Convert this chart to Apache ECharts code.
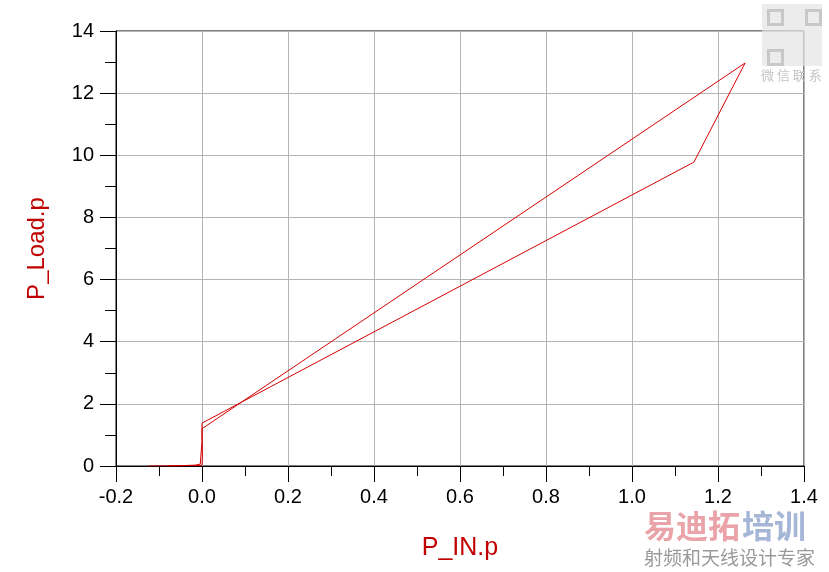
<!DOCTYPE html>
<html>
<head>
<meta charset="utf-8">
<script src="https://cdn.jsdelivr.net/npm/echarts@6/dist/echarts.min.js"></script>
<style>html,body{margin:0;padding:0;background:#fff}#c{width:829px;height:572px}</style>
</head>
<body>
<div id="c"></div>
<script>
// P_IN.p values (x) and P_Load.p values (y), in path order
const pIn   = [-0.125, -0.08, -0.04, -0.015, -0.004, 0.0, 0.0, 0.0, 1.144, 1.263, 0.0, 0.001, 0.0, -0.03, -0.08];
const pLoad = [0.0, 0.005, 0.015, 0.03, 0.06, 0.07, 0.8, 1.38, 9.78, 12.97, 1.2, 0.3, 0.02, 0.01, 0.0];
const xTicks = [-0.2, 0.0, 0.2, 0.4, 0.6, 0.8, 1.0, 1.2, 1.4];
const yTicks = [0, 2, 4, 6, 8, 10, 12, 14];

const chart = echarts.init(document.getElementById('c'));
const data = pIn.map((x, i) => [x, pLoad[i]]);
const font = 'Liberation Sans, Arial, sans-serif';
chart.setOption({
  animation: false,
  backgroundColor: '#fff',
  grid: { left: 116, right: 25, top: 31, bottom: 106, show: true, borderColor: '#000', borderWidth: 1, backgroundColor: 'transparent' },
  xAxis: {
    type: 'value', min: xTicks[0], max: xTicks[xTicks.length - 1], interval: 0.2,
    name: 'P_IN.p', nameLocation: 'middle', nameGap: 70,
    nameTextStyle: { color: '#c00000', fontSize: 25, fontFamily: font },
    axisLine: { show: true, onZero: false, lineStyle: { color: '#000', width: 1 } },
    axisTick: { show: true, inside: false, length: 16, lineStyle: { color: '#000' } },
    minorTick: { show: true, splitNumber: 2, length: 10, lineStyle: { color: '#000' } },
    splitLine: { show: true, lineStyle: { color: '#b4b4b4', width: 1 } },
    axisLabel: { color: '#000', fontSize: 20, fontFamily: font, margin: 21, formatter: v => v.toFixed(1) }
  },
  yAxis: {
    type: 'value', min: yTicks[0], max: yTicks[yTicks.length - 1], interval: 2,
    name: 'P_Load.p', nameLocation: 'middle', nameGap: 67,
    nameTextStyle: { color: '#c00000', fontSize: 24, fontFamily: font },
    axisLine: { show: true, onZero: false, lineStyle: { color: '#000', width: 1 } },
    axisTick: { show: true, inside: false, length: 16, lineStyle: { color: '#000' } },
    minorTick: { show: true, splitNumber: 2, length: 11, lineStyle: { color: '#000' } },
    splitLine: { show: true, lineStyle: { color: '#b4b4b4', width: 1 } },
    axisLabel: { color: '#000', fontSize: 20, fontFamily: font, margin: 22 }
  },
  series: [{
    type: 'line', data: data, showSymbol: false, symbol: 'none',
    lineStyle: { color: '#d40000', width: 1 }, z: 5
  }],
  graphic: [
    { type: 'rect', left: 762, top: 4, shape: { width: 60, height: 62 }, style: { fill: '#e4e4e4', opacity: 0.7 }, z: 10 },
    { type: 'rect', left: 766, top: 8, shape: { width: 14, height: 14 }, style: { fill: 'none', stroke: '#c8c8c8', lineWidth: 3 }, z: 11 },
    { type: 'rect', left: 804, top: 8, shape: { width: 14, height: 14 }, style: { fill: 'none', stroke: '#c8c8c8', lineWidth: 3 }, z: 11 },
    { type: 'rect', left: 766, top: 48, shape: { width: 14, height: 14 }, style: { fill: 'none', stroke: '#c8c8c8', lineWidth: 3 }, z: 11 },
    { type: 'text', left: 761, top: 69, style: { text: '微 信 联 系', fill: '#c4c4c4', font: '13px "Noto Sans CJK SC"' }, z: 11 },
    { type: 'text', left: 644, top: 510, style: { text: '易迪拓', fill: '#eaa3a8', font: 'bold 32px "Noto Sans CJK SC"' }, z: 11 },
    { type: 'text', left: 742, top: 510, style: { text: '培训', fill: '#a6b6d6', font: 'bold 32px "Noto Sans CJK SC"' }, z: 11 },
    { type: 'text', left: 644, top: 548, style: { text: '射频和天线设计专家', fill: '#9a9a9a', font: '19px "Noto Sans CJK SC"' }, z: 11 }
  ]
});
</script>
</body>
</html>
